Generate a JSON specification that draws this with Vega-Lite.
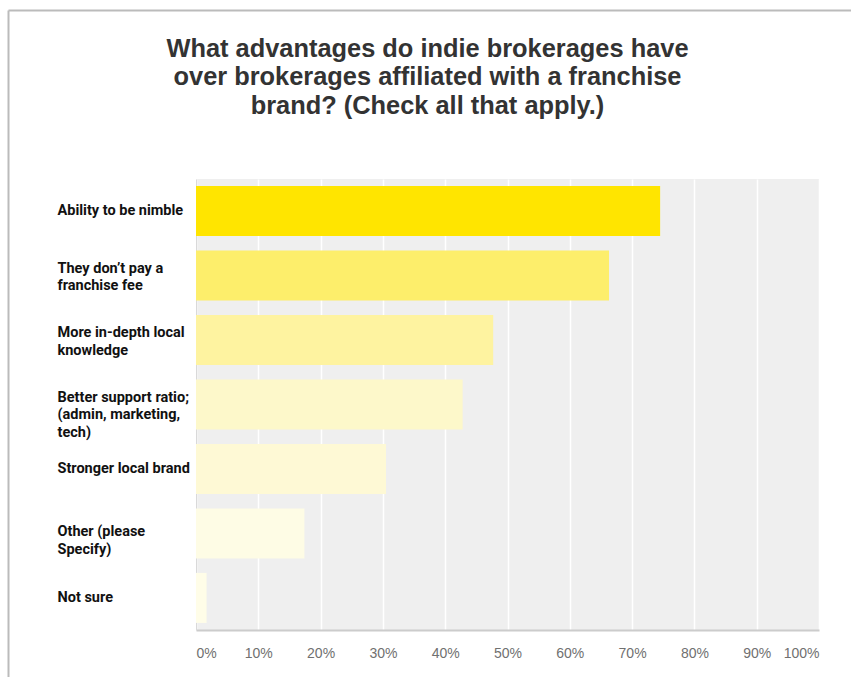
{
  "$schema": "https://vega.github.io/schema/vega-lite/v6.json",
  "width": 623,
  "height": 451,
  "autosize": "none",
  "padding": {"left": 196, "top": 179, "right": 32, "bottom": 47},
  "background": "white",
  "title": {
    "text": [
      "What advantages do indie brokerages have",
      "over brokerages affiliated with a franchise",
      "brand? (Check all that apply.)"
    ],
    "anchor": "middle",
    "frame": "group",
    "dx": -80,
    "offset": -109,
    "font": "Liberation Sans",
    "fontSize": 25.4,
    "fontWeight": "bold",
    "color": "#333333",
    "lineHeight": 28.5
  },
  "data": {
    "values": [
      {"answer": "Ability to be nimble", "share": 0.745},
      {"answer": "They don’t pay a\nfranchise fee", "share": 0.663},
      {"answer": "More in-depth local\nknowledge", "share": 0.477},
      {"answer": "Better support ratio;\n(admin, marketing,\ntech)", "share": 0.428},
      {"answer": "Stronger local brand", "share": 0.305},
      {"answer": "Other (please\nSpecify)", "share": 0.174},
      {"answer": "Not sure", "share": 0.017}
    ]
  },
  "layer": [
    {
      "mark": {"type": "bar"},
      "encoding": {
        "y": {
          "field": "answer",
          "type": "nominal",
          "sort": null,
          "scale": {"paddingInner": 0.224, "paddingOuter": 0.11},
          "axis": {
            "title": null,
            "ticks": false,
            "grid": false,
            "domain": true,
            "domainColor": "#d9d9d9",
            "domainWidth": 1,
            "labelAlign": "left",
            "labelBaseline": "middle",
            "labelPadding": 139,
            "labelFont": "Roboto",
            "labelFontSize": 14.5,
            "labelFontWeight": "bold",
            "labelColor": "#111111",
            "labelLineHeight": 17.5,
            "labelLimit": 0,
            "labelOffset": {
              "condition": [
                {"test": "indexof(datum.label, 'Other') == 0", "value": -1},
                {"test": "indexof(datum.label, '\\n') >= 0", "value": -7}
              ],
              "value": 0
            },
            "labelExpr": "split(datum.label, '\\n')"
          }
        },
        "x": {
          "field": "share",
          "type": "quantitative",
          "scale": {"domain": [0, 1], "nice": false},
          "axis": {
            "title": null,
            "format": "%",
            "values": [0, 0.1, 0.2, 0.3, 0.4, 0.5, 0.6, 0.7, 0.8, 0.9, 1],
            "grid": true,
            "gridColor": "#ffffff",
            "gridWidth": 1.5,
            "ticks": false,
            "domain": true,
            "domainColor": "#cccccc",
            "domainWidth": 2,
            "labelFlush": true,
            "labelPadding": 16,
            "labelFont": "Liberation Sans",
            "labelFontSize": 14,
            "labelColor": "#707070"
          }
        },
        "color": {
          "field": "answer",
          "type": "nominal",
          "sort": null,
          "legend": null,
          "scale": {
            "range": ["#ffe500", "#fdee6b", "#fef3a0", "#fdf8ca", "#fef9d5", "#fefce5", "#fffde8"]
          }
        }
      }
    },
    {
      "mark": {"type": "point", "opacity": 0},
      "encoding": {
        "x": {
          "field": "share",
          "type": "quantitative",
          "scale": {"domain": [0, 1], "nice": false, "range": [-188, 655]},
          "axis": {
            "orient": "top",
            "offset": 169,
            "title": null,
            "labels": false,
            "ticks": false,
            "grid": false,
            "domainColor": "#bbbbbb",
            "domainWidth": 2
          }
        },
        "y": {
          "field": "answer",
          "type": "nominal",
          "sort": null,
          "scale": {"range": [-169, 498]},
          "axis": {
            "orient": "left",
            "offset": 188,
            "title": null,
            "labels": false,
            "ticks": false,
            "grid": false,
            "domainColor": "#bbbbbb",
            "domainWidth": 2
          }
        }
      }
    }
  ],
  "resolve": {
    "scale": {"x": "independent", "y": "independent", "color": "independent"},
    "axis": {"x": "independent", "y": "independent"}
  },
  "config": {
    "view": {"fill": "#efefef", "stroke": null}
  }
}
